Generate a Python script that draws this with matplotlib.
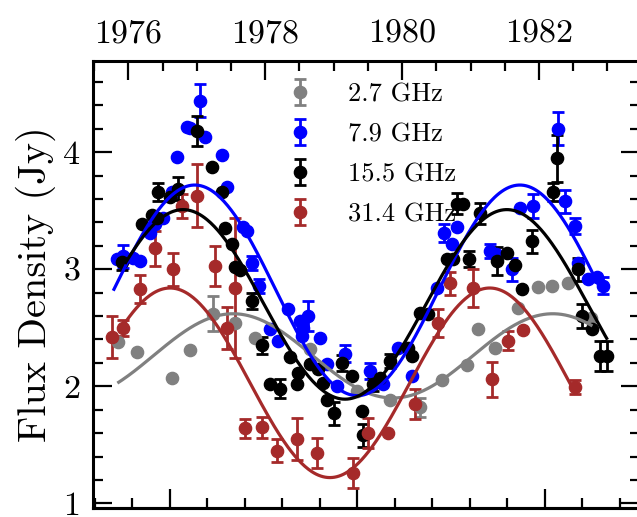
import numpy as np
import matplotlib
matplotlib.use('Agg')
import matplotlib.pyplot as plt
from matplotlib.ticker import MultipleLocator

plt.rcParams['font.family'] = 'cmr10'
plt.rcParams['mathtext.fontset'] = 'cm'
plt.rcParams['axes.formatter.use_mathtext'] = True
plt.rcParams['axes.unicode_minus'] = False

# ---------------- data (decimal year, flux density in Jy, 1-sigma error) ----------------
labels = ['2.7 GHz', '7.9 GHz', '15.5 GHz', '31.4 GHz']
colors = ['#808080', '#0000ff', '#000000', '#a52a2a']

gray_t = [1975.85, 1976.13, 1976.64, 1976.90, 1977.24, 1977.56, 1977.85, 1978.65,
          1979.34, 1979.82, 1980.26, 1980.58, 1980.95, 1981.11, 1981.35, 1981.69,
          1981.99, 1982.19, 1982.42, 1982.76]
gray_f = [2.38, 2.29, 2.07, 2.31, 2.62, 2.54, 2.41, 2.32,
          1.96, 1.88, 1.82, 2.05, 2.18, 2.49, 2.33, 2.67,
          2.85, 2.86, 2.88, 2.58]
gray_e = [0.0, 0.0, 0.0, 0.0, 0.15, 0.0, 0.0, 0.0,
          0.0, 0.0, 0.08, 0.0, 0.0, 0.0, 0.0, 0.0,
          0.0, 0.0, 0.0, 0.0]

blue_t = [1975.84, 1975.92, 1976.07, 1976.17, 1976.32, 1976.39, 1976.51, 1976.64,
          1976.71, 1976.85, 1976.90, 1977.05, 1977.12, 1977.37, 1977.44, 1977.68,
          1977.74, 1977.81, 1977.91, 1978.07, 1978.19, 1978.34, 1978.51, 1978.63,
          1978.55, 1978.54, 1978.80, 1978.90, 1979.05, 1979.16, 1979.53, 1979.72,
          1979.94, 1980.14, 1980.51, 1980.61, 1980.73, 1980.80, 1981.28, 1981.37,
          1981.60, 1981.72, 1981.91, 1982.28, 1982.38, 1982.53, 1982.57, 1982.71,
          1982.84, 1982.93]
blue_f = [3.09, 3.11, 3.10, 3.07, 3.31, 3.39, 3.44, 3.66,
          3.96, 4.22, 4.21, 4.44, 4.13, 3.98, 3.70, 3.36,
          3.33, 3.05, 2.86, 2.49, 2.39, 2.66, 2.56, 2.60,
          2.50, 2.43, 2.41, 2.19, 2.00, 2.28, 2.13, 2.02,
          2.33, 2.09, 2.84, 3.31, 3.22, 3.36, 3.16, 3.13,
          3.00, 3.52, 3.54, 4.20, 3.58, 3.37, 3.05, 2.92,
          2.93, 2.86]
blue_e = [0.0, 0.10, 0.0, 0.0, 0.0, 0.0, 0.0, 0.0,
          0.0, 0.0, 0.0, 0.14, 0.0, 0.0, 0.0, 0.0,
          0.0, 0.06, 0.06, 0.0, 0.0, 0.0, 0.0, 0.13,
          0.0, 0.0, 0.0, 0.0, 0.0, 0.07, 0.07, 0.0,
          0.0, 0.0, 0.0, 0.08, 0.0, 0.0, 0.06, 0.0,
          0.10, 0.0, 0.10, 0.14, 0.10, 0.07, 0.0, 0.0,
          0.0, 0.07]

black_t = [1975.91, 1976.20, 1976.35, 1976.42, 1976.43, 1976.61, 1976.73, 1977.01,
           1977.22, 1977.37, 1977.41, 1977.51, 1977.56, 1977.63, 1977.81, 1977.95,
           1978.07, 1978.21, 1978.36, 1978.48, 1978.46, 1978.65, 1978.77, 1978.84,
           1978.90, 1979.00, 1979.12, 1979.27, 1979.41, 1979.43, 1979.57, 1979.67,
           1979.82, 1980.09, 1980.14, 1980.26, 1980.38, 1980.65, 1980.74, 1980.80,
           1980.89, 1980.97, 1981.14, 1981.38, 1981.53, 1981.65, 1981.75, 1981.90,
           1982.21, 1982.26, 1982.57, 1982.63, 1982.78, 1982.89, 1982.99]
black_f = [3.06, 3.39, 3.46, 3.44, 3.66, 3.62, 3.69, 4.18,
           3.87, 3.66, 3.35, 3.22, 3.02, 2.99, 2.73, 2.35,
           2.02, 1.98, 2.25, 2.11, 2.02, 2.19, 2.15, 2.03,
           1.88, 1.77, 2.20, 2.09, 1.79, 1.58, 2.02, 2.07,
           2.22, 2.33, 2.26, 2.63, 2.62, 3.09, 3.09, 3.56,
           3.56, 3.09, 3.48, 3.07, 3.14, 3.04, 2.83, 3.24,
           3.66, 3.95, 3.00, 2.60, 2.49, 2.26, 2.26]
black_e = [0.07, 0.0, 0.0, 0.0, 0.08, 0.0, 0.10, 0.13,
           0.0, 0.0, 0.0, 0.0, 0.0, 0.0, 0.07, 0.07,
           0.0, 0.08, 0.0, 0.0, 0.0, 0.0, 0.0, 0.0,
           0.0, 0.10, 0.07, 0.0, 0.0, 0.10, 0.06, 0.0,
           0.06, 0.0, 0.0, 0.0, 0.0, 0.0, 0.0, 0.09,
           0.0, 0.07, 0.09, 0.12, 0.0, 0.0, 0.0, 0.10,
           0.08, 0.20, 0.10, 0.10, 0.0, 0.13, 0.13]

red_t = [1975.76, 1975.92, 1976.17, 1976.39, 1976.65, 1976.78, 1977.00, 1977.27,
         1977.44, 1977.56, 1977.70, 1977.95, 1978.17, 1978.46, 1978.76, 1979.28,
         1979.50, 1979.79, 1980.19, 1980.52, 1980.70, 1981.03, 1981.31, 1981.54,
         1981.77, 1982.52]
red_f = [2.42, 2.50, 2.83, 3.18, 3.00, 3.54, 3.63, 3.03,
         2.50, 2.84, 1.64, 1.65, 1.45, 1.55, 1.43, 1.26,
         1.60, 1.60, 1.85, 2.54, 2.88, 2.84, 2.06, 2.39,
         2.48, 1.99]
red_e = [0.18, 0.07, 0.12, 0.15, 0.14, 0.10, 0.27, 0.17,
         0.18, 0.60, 0.08, 0.09, 0.10, 0.18, 0.13, 0.13,
         0.13, 0.0, 0.13, 0.12, 0.10, 0.16, 0.15, 0.08,
         0.0, 0.06]

# sinusoidal fit parameters: mean, amplitude, period (yr), epoch of peak, start, end
fit_mean = [2.26, 2.82, 2.70, 2.03]
fit_amp = [0.36, 0.90, 0.81, 0.81]
fit_period = [4.67, 4.75, 4.73, 4.67]
fit_peak = [1977.53, 1976.97, 1976.80, 1976.61]
fit_start = [1975.84, 1975.78, 1975.95, 1975.90]
fit_end = [1982.78, 1982.88, 1983.00, 1982.54]

year_ticks = [1976, 1978, 1980, 1982]
year_labels = ['1976', '1978', '1980', '1982']
jd_ticks = [3000, 4000, 5000]          # JD - 2440000 on the lower axis
flux_ticks = [1, 2, 3, 4]
flux_labels = ['1', '2', '3', '4']

series_t = [gray_t, blue_t, black_t, red_t]
series_f = [gray_f, blue_f, black_f, red_f]
series_e = [gray_e, blue_e, black_e, red_e]

# ---------------- figure ----------------
W, H = 637, 517
fig = plt.figure(figsize=(W / 100, H / 100), dpi=100)
ax = fig.add_axes([93 / W, 9 / H, 547 / W, 447 / H])

handles = []
for t, f, e, c in zip(series_t, series_f, series_e, colors):
    h = ax.errorbar(t, f, yerr=e, fmt='o', color=c, ms=8.8, elinewidth=2.0,
                    capsize=4.5, capthick=2.0, zorder=2)
    handles.append(h)

for m, a, p, pk, s, en, c in zip(fit_mean, fit_amp, fit_period, fit_peak,
                                 fit_start, fit_end, colors):
    tt = np.linspace(s, en, 400)
    ax.plot(tt, m + a * np.cos(2 * np.pi * (tt - pk) / p), color=c, lw=2.3,
            zorder=3, solid_capstyle='butt')

ax.set_xlim(1975.484, 1983.475)
ax.set_ylim(0.96, 4.78)

ax.xaxis.set_ticks_position('top')
ax.set_xticks(year_ticks)
ax.set_xticklabels(year_labels)
ax.xaxis.set_minor_locator(MultipleLocator(0.5))
ax.tick_params(axis='x', which='both', direction='in', top=True, bottom=False,
               labeltop=True, labelbottom=False)
ax.set_yticks(flux_ticks)
ax.set_yticklabels(flux_labels)
ax.yaxis.set_minor_locator(MultipleLocator(0.2))
ax.tick_params(axis='y', which='both', direction='in', left=True, right=True)
ax.tick_params(which='major', length=13.5, width=1.6, labelsize=24.5, pad=9)
ax.tick_params(which='minor', length=7, width=1.6)
for sp in ax.spines.values():
    sp.set_linewidth(2.2)


def y2jd(y):
    return 51545.0 - 40000.0 + (np.asarray(y) - 2000.0) * 365.25


def jd2y(j):
    return 2000.0 + (np.asarray(j) - 11545.0) / 365.25


sec = ax.secondary_xaxis('bottom', functions=(y2jd, jd2y))
sec.set_xticks(jd_ticks)
sec.xaxis.set_minor_locator(MultipleLocator(200))
sec.tick_params(which='both', direction='in', labelbottom=False)
sec.tick_params(which='major', length=13.5, width=1.6)
sec.tick_params(which='minor', length=7, width=1.6)
sec.spines['bottom'].set_linewidth(2.2)

ax.set_ylabel('Flux Density (Jy)', fontsize=29, labelpad=5)

ax.legend(handles, labels, loc='upper left', bbox_to_anchor=(0.355, 0.952),
          frameon=False, fontsize=19, handlelength=1.0, handletextpad=1.3,
          labelspacing=0.62, borderpad=0, borderaxespad=0)

fig.savefig('out.png', dpi=100)
